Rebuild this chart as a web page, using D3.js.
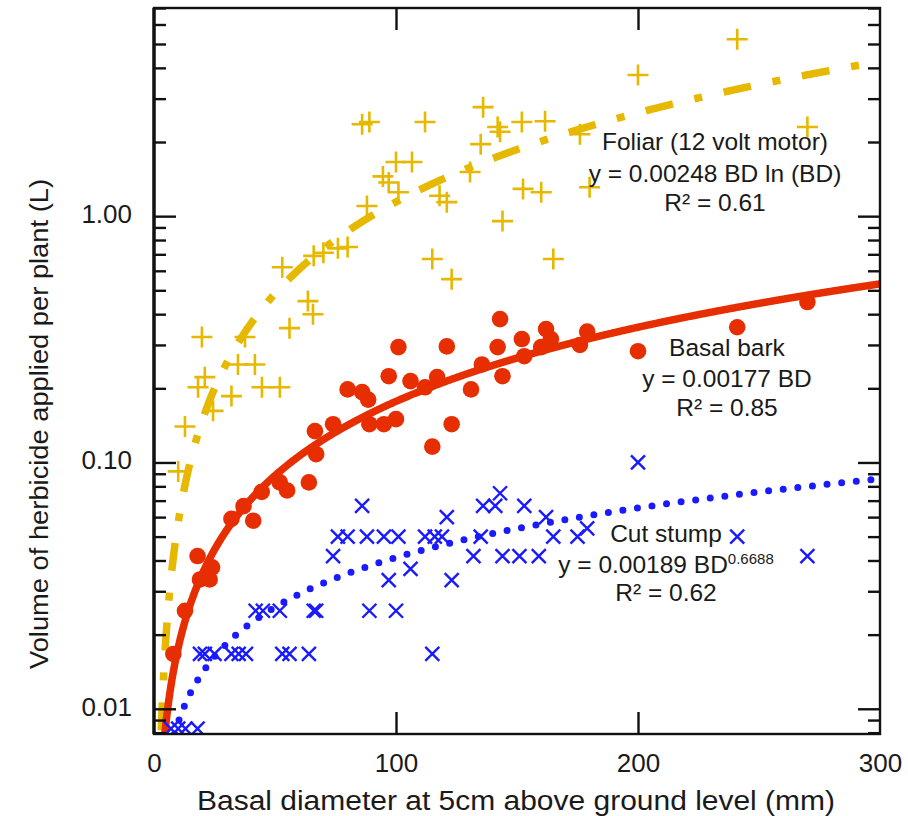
<!DOCTYPE html>
<html>
<head>
<meta charset="utf-8">
<script src="https://cdn.jsdelivr.net/npm/d3@7"></script>
<style>
  body { margin: 0; background: #fff; }
  svg { display: block; }
  text { font-family: "Liberation Sans", Arial, Helvetica, sans-serif; fill: #1a1a1a; }
</style>
</head>
<body>
<svg id="chart" width="908" height="816"></svg>
<script>
// Foliar spraying (12 volt motor): basal diameter (mm) and herbicide volume (L)
const foliarBD  = [10, 12.8, 18.2, 19.8, 21, 24.4, 32, 34.7, 37.6, 41.7, 44.6, 52, 53, 56, 63.6, 65.7, 66, 70, 76, 80,
                   86, 88, 89, 94.6, 97, 100, 101, 106.6, 112, 115, 118, 121, 123, 130.6, 135, 136, 142, 143, 144,
                   152, 152.5, 160, 161.6, 165, 176, 180, 200, 241, 270];
const foliarVol = [0.092, 0.14, 0.202, 0.323, 0.222, 0.162, 0.186, 0.25, 0.323, 0.25, 0.202, 0.202, 0.62, 0.351, 0.452, 0.40, 0.69, 0.71, 0.74, 0.75,
                   2.36, 1.10, 2.41, 1.45, 1.37, 1.66, 1.25, 1.66, 2.41, 0.67, 1.21, 1.14, 0.555, 1.51, 1.96, 2.77, 2.30, 2.20, 0.955,
                   2.41, 1.29, 1.25, 2.43, 0.67, 2.15, 1.31, 3.74, 5.23, 2.30];

// Basal bark spraying
const basalBD  = [8, 12.8, 18, 19, 23, 24, 32, 37, 41, 44.5, 52, 55, 64, 67, 66.5, 74, 80, 86, 88.5, 89, 95,
                  97, 100, 101, 106, 112, 115, 117, 121, 123, 131, 135.5, 142, 143, 144, 152, 153, 160, 162, 164,
                  176, 179, 200, 241, 270];
const basalVol = [0.0167, 0.025, 0.0417, 0.0335, 0.0335, 0.0375, 0.059, 0.0665, 0.058, 0.076, 0.083, 0.077, 0.083, 0.108, 0.134, 0.143, 0.198, 0.193, 0.18, 0.143, 0.143,
                  0.224, 0.15, 0.294, 0.214, 0.202, 0.116, 0.222, 0.296, 0.143, 0.198, 0.25, 0.294, 0.382, 0.224, 0.317, 0.27, 0.294, 0.348, 0.317,
                  0.30, 0.34, 0.283, 0.354, 0.448];

// Cut stump application
const stumpBD  = [7, 10, 13, 18,
                  19, 21, 25, 32, 35, 38, 53, 56, 64, 115,
                  42, 45, 52, 66, 67, 89, 100,
                  97, 123, 106,
                  74, 132, 144, 151, 159, 270,
                  76, 80, 88, 95, 101, 112, 116, 119, 135, 165, 175, 241,
                  179, 121, 162,
                  86, 136, 141, 153, 143, 200];
const stumpVol = [0.0083, 0.0083, 0.0083, 0.0083,
                  0.0167, 0.0167, 0.0167, 0.0167, 0.0167, 0.0167, 0.0167, 0.0167, 0.0167, 0.0167,
                  0.025, 0.025, 0.025, 0.025, 0.025, 0.025, 0.025,
                  0.0333, 0.0333, 0.037,
                  0.0417, 0.0417, 0.0417, 0.0417, 0.0417, 0.0417,
                  0.05, 0.05, 0.05, 0.05, 0.05, 0.05, 0.05, 0.05, 0.05, 0.05, 0.05, 0.05,
                  0.054, 0.06, 0.06,
                  0.0667, 0.0667, 0.0667, 0.0667, 0.075, 0.1];

// Fitted regression coefficients
const foliarCoef = 0.00248;            // y = a BD ln(BD)
const basalCoef  = 0.00177;            // y = a BD
const stumpCoef  = 0.00189;            // y = a BD^b
const stumpExp   = 0.6688;

// Axes
const xDomain = [0, 300];
const yDomain = [0.0079, 7.0];
const xTickValues = [0, 100, 200, 300];
const xTickLabels = ["0", "100", "200", "300"];
const yTickValues = [0.01, 0.1, 1];
const yTickLabels = ["0.01", "0.10", "1.00"];

const colorFoliar = "#e6b800";
const colorBasal  = "#e62e00";
const colorStump  = "#1a1aff";

const margin = { left: 154, right: 28, top: 8, bottom: 82 };
const W = 908, H = 816;
const iw = W - margin.left - margin.right;   // 726
const ih = H - margin.top - margin.bottom;   // 726

const svg = d3.select("#chart");
const g = svg.append("g").attr("transform", `translate(${margin.left},${margin.top})`);

const x = d3.scaleLinear().domain(xDomain).range([0, iw]);
const y = d3.scaleLog().domain(yDomain).range([ih, 0]);

svg.append("defs").append("clipPath").attr("id", "plotClip")
  .append("rect").attr("x", 0).attr("y", 0).attr("width", iw).attr("height", ih);

const plot = g.append("g").attr("clip-path", "url(#plotClip)");

// fitted curve samples over the diameter range
const bdSamples = d3.range(1, 300.01, 0.25);
function fitLine(fn) {
  const pts = bdSamples.map(b => [b, fn(b)]).filter(p => p[1] >= yDomain[0]);
  return d3.line().x(p => x(p[0])).y(p => y(p[1]))(pts);
}

// Foliar: plus markers + dash-dot fit
const foliar = plot.append("g");
foliar.selectAll("path.mk")
  .data(d3.zip(foliarBD, foliarVol))
  .join("path")
  .attr("class", "mk")
  .attr("d", d => {
    const cx = x(d[0]), cy = y(d[1]), s = 10.5;
    return `M${cx - s},${cy}H${cx + s}M${cx},${cy - s}V${cy + s}`;
  })
  .attr("stroke", colorFoliar).attr("stroke-width", 2.6).attr("fill", "none");
foliar.append("path")
  .attr("d", fitLine(b => foliarCoef * b * Math.log(b)))
  .attr("fill", "none").attr("stroke", colorFoliar).attr("stroke-width", 7.5)
  .attr("stroke-dasharray", "28,22,8,22");

// Basal bark: filled circles + solid fit
const basal = plot.append("g");
basal.selectAll("circle")
  .data(d3.zip(basalBD, basalVol))
  .join("circle")
  .attr("cx", d => x(d[0])).attr("cy", d => y(d[1])).attr("r", 8.3)
  .attr("fill", colorBasal);
basal.append("path")
  .attr("d", fitLine(b => basalCoef * b))
  .attr("fill", "none").attr("stroke", colorBasal).attr("stroke-width", 7.5);

// Cut stump: x markers + dotted fit
const stump = plot.append("g");
stump.selectAll("path.mk")
  .data(d3.zip(stumpBD, stumpVol))
  .join("path")
  .attr("class", "mk")
  .attr("d", d => {
    const cx = x(d[0]), cy = y(d[1]), s = 7;
    return `M${cx - s},${cy - s}L${cx + s},${cy + s}M${cx - s},${cy + s}L${cx + s},${cy - s}`;
  })
  .attr("stroke", colorStump).attr("stroke-width", 2.4).attr("fill", "none");
stump.append("path")
  .attr("d", fitLine(b => stumpCoef * Math.pow(b, stumpExp)))
  .attr("fill", "none").attr("stroke", colorStump).attr("stroke-width", 7)
  .attr("stroke-linecap", "round").attr("stroke-dasharray", "0,14.7");

// Tick marks (inside, on all four sides)
const minorY = y.ticks().filter(v => !yTickValues.includes(v));
function styleTicks(sel) {
  sel.select(".domain").remove();
  sel.selectAll("line").attr("stroke", "#111").attr("stroke-width", 2.4);
  sel.selectAll("text").remove();
}
g.append("g").call(d3.axisLeft(y).tickValues(yTickValues).tickSize(-22)).call(styleTicks);
g.append("g").call(d3.axisLeft(y).tickValues(minorY).tickSize(-12)).call(styleTicks);
g.append("g").attr("transform", `translate(${iw},0)`)
  .call(d3.axisRight(y).tickValues(yTickValues).tickSize(-22)).call(styleTicks);
g.append("g").attr("transform", `translate(${iw},0)`)
  .call(d3.axisRight(y).tickValues(minorY).tickSize(-12)).call(styleTicks);
g.append("g").attr("transform", `translate(0,${ih})`)
  .call(d3.axisBottom(x).tickValues(xTickValues.slice(1, -1)).tickSize(-22)).call(styleTicks);
g.append("g")
  .call(d3.axisTop(x).tickValues(xTickValues.slice(1, -1)).tickSize(-22)).call(styleTicks);

// Frame
g.append("rect").attr("x", 0).attr("y", 0).attr("width", iw).attr("height", ih)
  .attr("fill", "none").attr("stroke", "#111").attr("stroke-width", 2.4);
g.append("line").attr("x1", 0).attr("x2", 0).attr("y1", 0).attr("y2", ih)
  .attr("stroke", "#111").attr("stroke-width", 3.4);

// Tick labels
const yLab = g.append("g")
  .call(d3.axisLeft(y).tickValues(yTickValues).tickSize(0).tickPadding(22)
    .tickFormat((d, i) => yTickLabels[i]));
yLab.select(".domain").remove();
yLab.selectAll("text").attr("font-size", 26).attr("dy", "0.24em")
  .style("font-family", "'Liberation Sans', Arial, sans-serif").attr("fill", "#1a1a1a");

const xLab = g.append("g").attr("transform", `translate(0,${ih})`)
  .call(d3.axisBottom(x).tickValues(xTickValues).tickSize(0).tickPadding(20)
    .tickFormat((d, i) => xTickLabels[i]));
xLab.select(".domain").remove();
xLab.selectAll("text").attr("font-size", 26)
  .style("font-family", "'Liberation Sans', Arial, sans-serif").attr("fill", "#1a1a1a");

// Axis titles
svg.append("text")
  .attr("x", 516).attr("y", 810)
  .attr("text-anchor", "middle").attr("font-size", 27)
  .attr("textLength", 638).attr("lengthAdjust", "spacingAndGlyphs")
  .text("Basal diameter at 5cm above ground level (mm)");
svg.append("text")
  .attr("transform", "translate(48,424) rotate(-90)")
  .attr("text-anchor", "middle").attr("font-size", 26.5)
  .attr("textLength", 490).attr("lengthAdjust", "spacingAndGlyphs")
  .text("Volume of herbicide applied per plant (L)");

// Regression annotations
function annot(cx, baselines, lines) {
  const t = svg.append("g");
  lines.forEach((ln, i) => {
    const txt = t.append("text").attr("x", cx).attr("y", baselines[i])
      .attr("text-anchor", "middle").attr("font-size", 24.5);
    ln.forEach(part => {
      const sp = txt.append("tspan").text(part.t);
      if (part.sup) sp.attr("font-size", 15).attr("dy", -9);
    });
  });
}
annot(715, [150, 182, 211], [
  [{ t: "Foliar (12 volt motor)" }],
  [{ t: `y = ${foliarCoef.toFixed(5)} BD ln (BD)` }],
  [{ t: "R² = 0.61" }]
]);
annot(727, [356, 387, 416], [
  [{ t: "Basal bark" }],
  [{ t: `y = ${basalCoef.toFixed(5)} BD` }],
  [{ t: "R² = 0.85" }]
]);
annot(666, [542, 573, 601], [
  [{ t: "Cut stump" }],
  [{ t: `y = ${stumpCoef.toFixed(5)} BD` }, { t: stumpExp.toFixed(4), sup: true }],
  [{ t: "R² = 0.62" }]
]);
</script>
</body>
</html>
